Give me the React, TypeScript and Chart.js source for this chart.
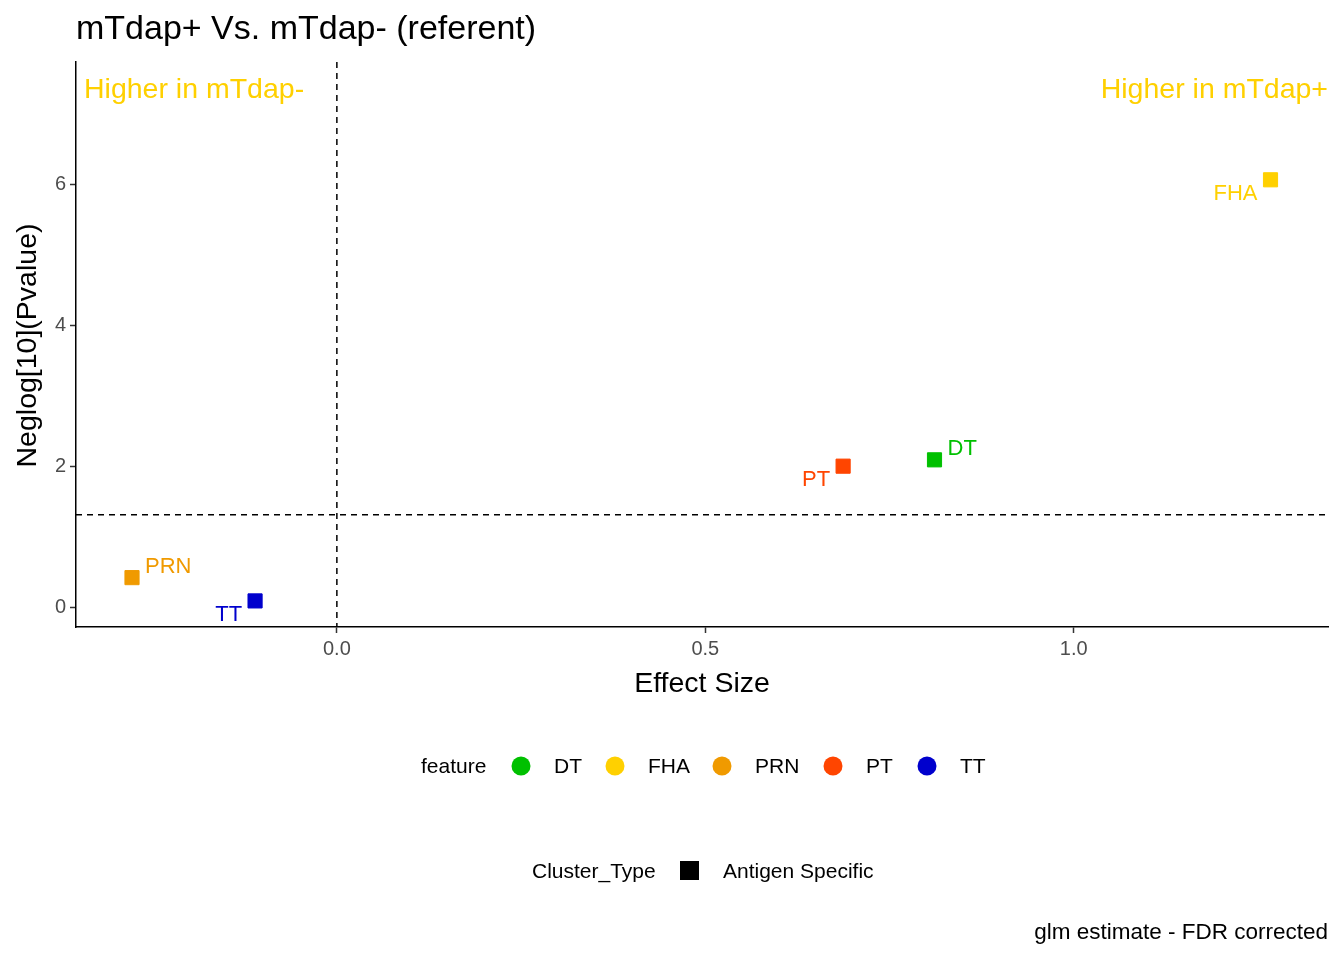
import React, { useEffect, useRef } from "react";
import { Chart, registerables } from "chart.js";
Chart.register(...registerables);

const features = ["DT", "FHA", "PRN", "PT", "TT"];
const effectSize = [0.811, 1.267, -0.278, 0.687, -0.111];
const negLogP = [2.1, 6.07, 0.43, 2.01, 0.1];
const colors = ["#00C000", "#FFD000", "#F09A00", "#FF4500", "#0000CD"];
const labelSide = ["ur", "dl", "ur", "dl", "dl"];
const xTicks = [0, 0.5, 1.0];
const yTicks = [0, 2, 4, 6];
const sigLine = 1.32;
const FONT = "'Liberation Sans', Arial, sans-serif";

export default function App() {
  const ref = useRef<HTMLCanvasElement>(null);
  useEffect(() => {
    const overlay = {
      id: "overlay",
      afterDatasetsDraw(chart: any) {
        const { ctx, chartArea: a, scales } = chart;
        const xs = scales.x, ys = scales.y;
        ctx.save();
        ctx.setLineDash([6, 5]);
        ctx.strokeStyle = "#000";
        ctx.lineWidth = 1.5;
        const x0 = xs.getPixelForValue(0);
        ctx.beginPath(); ctx.moveTo(x0, a.top); ctx.lineTo(x0, a.bottom); ctx.stroke();
        const yl = ys.getPixelForValue(sigLine);
        ctx.beginPath(); ctx.moveTo(a.left, yl); ctx.lineTo(a.right, yl); ctx.stroke();
        ctx.setLineDash([]);
        ctx.font = `22px ${FONT}`;
        features.forEach((f, i) => {
          const px = xs.getPixelForValue(effectSize[i]);
          const py = ys.getPixelForValue(negLogP[i]);
          ctx.fillStyle = colors[i];
          if (labelSide[i] === "ur") {
            ctx.textAlign = "left"; ctx.textBaseline = "bottom";
            ctx.fillText(f, px + 13, py + 0);
          } else {
            ctx.textAlign = "right"; ctx.textBaseline = "top";
            ctx.fillText(f, px - 13, py + 3);
          }
        });
        ctx.font = `28.5px ${FONT}`;
        ctx.fillStyle = "#FFD000";
        ctx.textBaseline = "middle";
        ctx.textAlign = "left"; ctx.fillText("Higher in mTdap-", 84, 90);
        ctx.textAlign = "right"; ctx.fillText("Higher in mTdap+", 1328, 90);
        ctx.fillStyle = "#000";
        ctx.font = `34px ${FONT}`;
        ctx.textAlign = "left"; ctx.fillText("mTdap+ Vs. mTdap- (referent)", 76, 30);
        ctx.font = `28.5px ${FONT}`;
        ctx.textAlign = "center";
        ctx.fillText("Effect Size", (a.left + a.right) / 2, 684);
        ctx.save();
        ctx.translate(28, (a.top + a.bottom) / 2 + 1);
        ctx.rotate(-Math.PI / 2);
        ctx.fillText("Neglog[10](Pvalue)", 0, 0);
        ctx.restore();
        ctx.font = `21px ${FONT}`;
        ctx.textAlign = "left";
        ctx.fillStyle = "#000";
        ctx.fillText("feature", 421, 767);
        const cx = [521, 615, 722, 833, 927];
        features.forEach((f, i) => {
          ctx.fillStyle = colors[i];
          ctx.beginPath(); ctx.arc(cx[i], 766, 9.5, 0, Math.PI * 2); ctx.fill();
          ctx.fillStyle = "#000";
          ctx.fillText(f, cx[i] + 33, 767);
        });
        ctx.fillText("Cluster_Type", 532, 872);
        ctx.fillRect(680, 861, 19, 19);
        ctx.fillText("Antigen Specific", 723, 872);
        ctx.font = `22.5px ${FONT}`;
        ctx.textAlign = "right";
        ctx.fillText("glm estimate - FDR corrected", 1328, 933);
        ctx.restore();
      },
    };
    const chart = new Chart(ref.current!, {
      type: "scatter",
      data: {
        datasets: [{
          data: effectSize.map((x, i) => ({ x, y: negLogP[i] })),
          backgroundColor: colors,
          borderColor: colors,
          pointStyle: "rect",
          pointRadius: 10,
        }],
      },
      options: {
        animation: false,
        responsive: false,
        layout: { padding: { left: 0, top: 62, right: 16, bottom: 0 } },
        plugins: { legend: { display: false }, tooltip: { enabled: false } },
        scales: {
          x: {
            type: "linear", min: -0.354, max: 1.345,
            afterBuildTicks: (s: any) => { s.ticks = xTicks.map((v) => ({ value: v })); },
            afterFit: (s: any) => { s.height = 333; },
            grid: { display: true, drawOnChartArea: false, drawTicks: true, tickLength: 6, tickColor: "#333", tickWidth: 1.5 },
            border: { display: true, color: "#000", width: 1.5 },
            ticks: { color: "#4d4d4d", font: { size: 20, family: FONT }, padding: 4, callback: (v: any) => Number(v).toFixed(1) },
          },
          y: {
            type: "linear", min: -0.27, max: 7.74,
            afterBuildTicks: (s: any) => { s.ticks = yTicks.map((v) => ({ value: v })); },
            afterFit: (s: any) => { s.width = 76; },
            grid: { display: true, drawOnChartArea: false, drawTicks: true, tickLength: 6, tickColor: "#333", tickWidth: 1.5 },
            border: { display: true, color: "#000", width: 1.5 },
            ticks: { color: "#4d4d4d", font: { size: 20, family: FONT }, padding: 4 },
          },
        },
      },
      plugins: [overlay],
    } as any);
    return () => chart.destroy();
  }, []);
  return (
    <div style={{ position: "fixed", left: 0, top: 0, width: 1344, height: 960, background: "#fff" }}>
      <canvas ref={ref} width={1344} height={960} style={{ width: 1344, height: 960 }} />
    </div>
  );
}
